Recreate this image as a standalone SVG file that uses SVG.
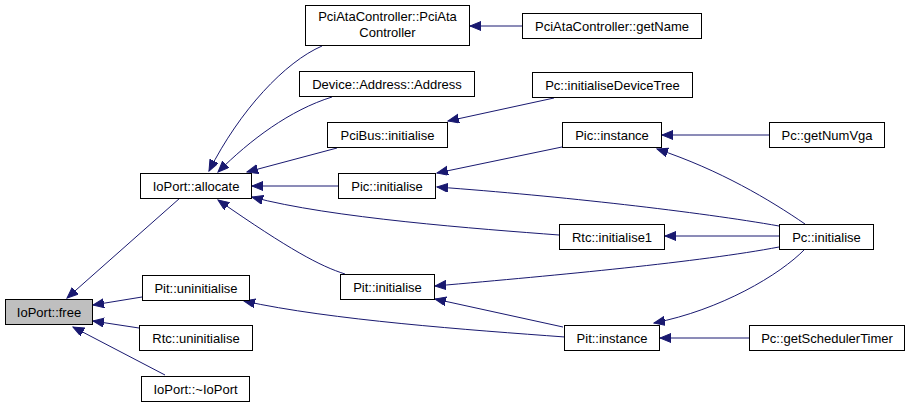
<svg xmlns="http://www.w3.org/2000/svg" width="909" height="407" viewBox="0 0 909 407">
<defs>
<style>
.n rect{fill:#fff;stroke:#000;stroke-width:1}
.n text{font-family:"Liberation Sans",Arial,sans-serif;font-size:13px;text-anchor:middle;fill:#000}
.e path{fill:none;stroke:#191970;stroke-width:1;marker-end:url(#ah)}
</style>
<marker id="ah" markerUnits="userSpaceOnUse" markerWidth="12" markerHeight="10" refX="11" refY="4.5" orient="auto">
<path d="M0,0 L11,4.5 L0,9 z" fill="#191970" stroke="#191970" stroke-width="1"/>
</marker>
</defs>
<rect width="909" height="407" fill="#fff"/>
<g class="e" id="edges">
<path d="M180,198 L67,298"/>
<path d="M142,297 L93,305"/>
<path d="M139,328 L93,321"/>
<path d="M165,375 L73,327"/>
<path d="M322,46 C285,62 240,110 209,171"/>
<path d="M332,97 C290,110 250,140 218,172"/>
<path d="M337,148 L247,172"/>
<path d="M338,186 L252,186"/>
<path d="M559,235 C480,229 330,218 252,197"/>
<path d="M345,274 C320,266 290,250 218,200"/>
<path d="M565,337 C470,330 330,320 244,301"/>
<path d="M554,98 L448,121"/>
<path d="M562,147 L437,173"/>
<path d="M779,226 C700,212 560,196 437,187"/>
<path d="M769,135 L662,135"/>
<path d="M805,224 C770,200 720,170 657,149"/>
<path d="M779,236 L665,236"/>
<path d="M779,247 C700,262 560,275 435,286"/>
<path d="M563,327 L435,299"/>
<path d="M805,249 C780,275 720,310 654,323"/>
<path d="M749,338 L660,338"/>
<path d="M522,26 L470,26"/>
</g>
<g class="n" id="free"><rect x="5.5" y="299.5" width="87" height="25" style="fill:#bfbfbf"/><text x="49" y="317">IoPort::free</text></g>
<g class="n" id="allocate"><rect x="140.5" y="173.5" width="111" height="25"/><text x="196" y="191">IoPort::allocate</text></g>
<g class="n" id="pituninit"><rect x="142.5" y="275.5" width="107" height="25"/><text x="196" y="293">Pit::uninitialise</text></g>
<g class="n" id="rtcuninit"><rect x="139.5" y="325.5" width="113" height="25"/><text x="196" y="343">Rtc::uninitialise</text></g>
<g class="n" id="dtor"><rect x="141.5" y="376.5" width="108" height="25"/><text x="195.5" y="394">IoPort::~IoPort</text></g>
<g class="n" id="pciatactor"><rect x="305.5" y="5.5" width="164" height="40"/><text x="387.5" y="21">PciAtaController::PciAta</text><text x="387.5" y="37">Controller</text></g>
<g class="n" id="devaddr"><rect x="299.5" y="71.5" width="175" height="25"/><text x="387" y="89">Device::Address::Address</text></g>
<g class="n" id="pcibus"><rect x="327.5" y="122.5" width="120" height="25"/><text x="387.5" y="140">PciBus::initialise</text></g>
<g class="n" id="picinit"><rect x="338.5" y="173.5" width="97" height="25"/><text x="387" y="191">Pic::initialise</text></g>
<g class="n" id="pitinit"><rect x="340.5" y="274.5" width="94" height="25"/><text x="387.5" y="292">Pit::initialise</text></g>
<g class="n" id="getname"><rect x="522.5" y="13.5" width="179" height="25"/><text x="612" y="31">PciAtaController::getName</text></g>
<g class="n" id="devtree"><rect x="532.5" y="72.5" width="160" height="25"/><text x="612.5" y="90">Pc::initialiseDeviceTree</text></g>
<g class="n" id="picinst"><rect x="562.5" y="122.5" width="99" height="25"/><text x="612" y="140">Pic::instance</text></g>
<g class="n" id="rtcinit1"><rect x="559.5" y="224.5" width="105" height="25"/><text x="612" y="242">Rtc::initialise1</text></g>
<g class="n" id="pitinst"><rect x="564.5" y="325.5" width="95" height="25"/><text x="612" y="343">Pit::instance</text></g>
<g class="n" id="numvga"><rect x="769.5" y="122.5" width="115" height="25"/><text x="827" y="140">Pc::getNumVga</text></g>
<g class="n" id="pcinit"><rect x="779.5" y="224.5" width="94" height="25"/><text x="826.5" y="242">Pc::initialise</text></g>
<g class="n" id="sched"><rect x="749.5" y="325.5" width="155" height="25"/><text x="827" y="343">Pc::getSchedulerTimer</text></g>
</svg>
